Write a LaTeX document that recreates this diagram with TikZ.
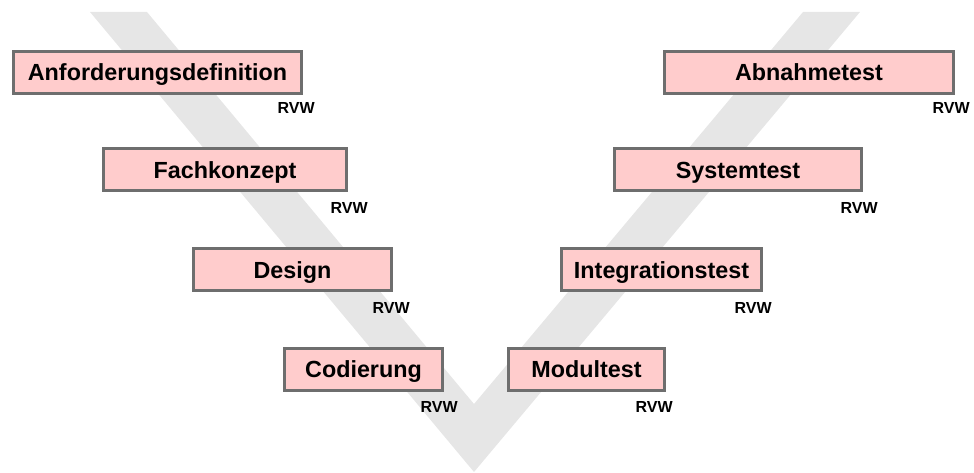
\documentclass[tikz,border=0pt]{standalone}
\usepackage{fontspec}
\setmainfont{Liberation Sans}
\usepackage{xcolor}
\usetikzlibrary{positioning}
\definecolor{phasefill}{HTML}{FFCCCC}
\definecolor{phaseline}{HTML}{6E6E6E}
\definecolor{vgray}{HTML}{E6E6E6}
\tikzset{
  phase/.style={rectangle, draw=phaseline, fill=phasefill, line width=2.25pt,
                minimum width=#1, minimum height=31.5pt, inner sep=0pt,
                text height=12.5pt, text depth=0pt,
                font=\fontsize{17.5}{20}\selectfont\bfseries, align=center},
  phase/.default=150pt,
  rvw/.style={anchor=east, inner sep=0pt, font=\fontsize{12}{14}\selectfont\bfseries},
}
\begin{document}
\begin{tikzpicture}[x=0.75pt, y=-0.75pt]
  \useasboundingbox (0,0) rectangle (974,473);
  %% V background
  \fill[vgray] (90,12) -- (147,12) -- (474,404) -- (803,12) -- (860,12)
    -- (474,472) -- cycle;
  %% Left arm
  \node[phase=216pt]    (anf) at (157.5,72.5) {Anforderungsdefinition};
  \node[phase=182.25pt] (fach) at (225,170)   {Fachkonzept};
  \node[phase=148.5pt]  (des) at (292.5,270)  {Design};
  \node[phase=118.5pt]  (cod) at (363.5,369.5) {Codierung};
  %% Right arm
  \node[phase=117pt]    (mod) at (586.5,369.5) {Modultest};
  \node[phase=150pt]    (int) at (661.5,270)  {Integrationstest};
  \node[phase=185.25pt] (sys) at (738,170)    {Systemtest};
  \node[phase=216.75pt] (abn) at (809,72.5)   {Abnahmetest};
  %% Reviews
  \node[rvw] (rvwanf)  at (315,108) {RVW};
  \node[rvw] (rvwfach) at (368,208) {RVW};
  \node[rvw] (rvwdes)  at (410,308) {RVW};
  \node[rvw] (rvwcod)  at (458,407) {RVW};
  \node[rvw] (rvwmod)  at (673,407) {RVW};
  \node[rvw] (rvwint)  at (772,308) {RVW};
  \node[rvw] (rvwsys)  at (878,208) {RVW};
  \node[rvw] (rvwabn)  at (970,108) {RVW};
\end{tikzpicture}
\end{document}
